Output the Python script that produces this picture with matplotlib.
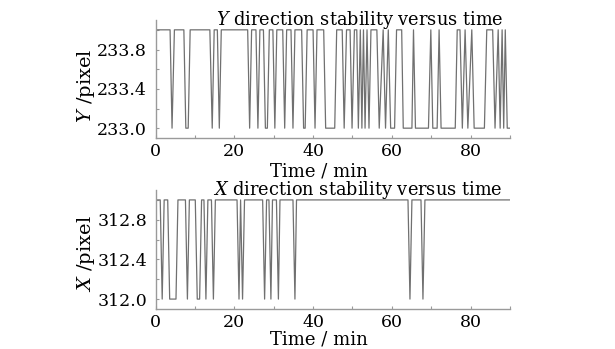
import matplotlib
matplotlib.use("Agg")
import matplotlib.pyplot as plt
import matplotlib.transforms as mtransforms
from matplotlib.ticker import MultipleLocator, FixedLocator, FormatStrFormatter

# Y direction record: vertex times (min) and pixel values
y_time = [0, 3.7, 4.2, 4.8, 7.2, 7.7, 8.3, 8.8, 13.8, 14.4, 14.9, 15.7, 16.2, 16.7,
          23.4, 23.9, 24.4, 25.5, 26.0, 26.5, 27.4, 27.9, 28.4, 28.9, 29.8, 30.3, 30.8,
          32.3, 32.8, 33.3, 34.4, 34.9, 35.4, 37.1, 37.6, 38.0, 38.5, 40.0, 40.5, 41.0,
          42.7, 43.2, 45.5, 46.0, 47.4, 47.9, 48.5, 49.4, 49.9, 50.5, 51.1, 51.5, 52.0,
          52.4, 52.8, 53.2, 53.7, 54.2, 54.7, 56.2, 56.8, 57.8, 58.4, 59.1, 59.7, 60.7,
          61.2, 62.5, 62.9, 65.1, 65.5, 66.0, 69.3, 69.9, 70.4, 71.5, 72.0, 72.5, 76.1,
          76.6, 77.3, 77.9, 78.6, 79.3, 80.3, 80.9, 83.5, 84.1, 85.6, 86.2, 87.0, 87.5,
          88.0, 88.4, 88.8, 89.3, 90.0]
y_pix = [234, 234, 233, 234, 234, 233, 233, 234, 234, 233, 234, 234, 233, 234,
         234, 233, 234, 234, 233, 234, 234, 233, 233, 234, 234, 233, 234,
         234, 233, 234, 234, 233, 234, 234, 233, 233, 234, 234, 233, 234,
         234, 233, 233, 234, 234, 233, 234, 234, 233, 234, 234, 233, 234,
         233, 234, 233, 234, 233, 234, 234, 233, 234, 233, 234, 233, 233,
         234, 234, 233, 233, 234, 233, 233, 234, 233, 233, 234, 233, 233,
         234, 234, 233, 234, 233, 234, 233, 233, 234, 234, 233, 234, 233,
         234, 233, 234, 233, 233]
y_ticks = [233.0, 233.4, 233.8]

# X direction record
x_time = [0, 1.2, 1.7, 2.2, 3.1, 3.6, 5.2, 5.7, 7.6, 8.1, 8.6, 10.1, 10.6, 11.2, 11.7,
          12.3, 12.8, 13.3, 14.2, 14.7, 15.2, 20.7, 21.2, 21.6, 22.1, 22.6, 27.2, 27.7,
          28.2, 28.8, 29.3, 29.7, 30.7, 31.2, 31.6, 34.9, 35.4, 35.8, 64.1, 64.6, 65.1,
          67.4, 67.9, 68.4, 90.0]
x_pix = [313, 313, 312, 313, 313, 312, 312, 313, 313, 312, 313, 313, 312, 312, 313,
         313, 312, 313, 313, 312, 313, 313, 312, 313, 312, 313, 313, 312,
         313, 313, 312, 313, 313, 312, 313, 313, 312, 313, 313, 312, 313,
         313, 312, 313, 313]
x_ticks = [312.0, 312.4, 312.8]

plt.rcParams["font.family"] = "DejaVu Serif"
plt.rcParams["mathtext.fontset"] = "dejavuserif"

LINE = "#707070"
AXC = "#9a9a9a"

fig = plt.figure(figsize=(6.15, 3.49), dpi=100)
ax1 = fig.add_axes([155.5 / 615, 1 - 138 / 349, 354.5 / 615, 118 / 349])
ax2 = fig.add_axes([155.5 / 615, 1 - 309 / 349, 354.5 / 615, 119 / 349])


def style(ax, base, ticks, ttl):
    ax.set_xlim(0, 90)
    ax.set_ylim(base - 0.1, base + 1.1)
    for s in ("top", "right"):
        ax.spines[s].set_visible(False)
    for s in ("left", "bottom"):
        ax.spines[s].set_color(AXC)
        ax.spines[s].set_linewidth(1.0)
    ax.xaxis.set_major_locator(MultipleLocator(20))
    ax.xaxis.set_minor_locator(MultipleLocator(10))
    ax.yaxis.set_major_locator(FixedLocator(ticks))
    ax.yaxis.set_minor_locator(FixedLocator([base + 0.2 * k for k in range(6)]))
    ax.yaxis.set_major_formatter(FormatStrFormatter("%.1f"))
    ax.tick_params(which="both", direction="in", color=AXC, labelsize=12.5,
                   top=False, right=False)
    ax.tick_params(which="major", length=2.5, width=0.8)
    ax.tick_params(which="minor", length=2.0, width=0.8)
    ax.tick_params(axis="y", pad=6)
    ax.tick_params(axis="x", pad=3.5)
    trans = mtransforms.blended_transform_factory(ax.transAxes, ax.transData)
    ax.text((503 - 155.5) / 354.5, base + 1.045, ttl, ha="right", va="baseline",
            fontsize=12.8, transform=trans)


ax1.plot(y_time, y_pix, color=LINE, lw=0.9)
ax2.plot(x_time, x_pix, color=LINE, lw=0.9)
style(ax1, 233, y_ticks, r"$Y$ direction stability versus time")
style(ax2, 312, x_ticks, r"$X$ direction stability versus time")

fig.text(319 / 615, 1 - 176 / 349, "Time / min", ha="center", va="baseline", fontsize=13)
fig.text(319 / 615, 1 - 344 / 349, "Time / min", ha="center", va="baseline", fontsize=13)
fig.text(86 / 615, 1 - 86 / 349, r"$Y$ /pixel", ha="center", va="center",
         rotation=90, fontsize=14)
fig.text(86 / 615, 1 - 254 / 349, r"$X$ /pixel", ha="center", va="center",
         rotation=90, fontsize=14)

fig.savefig("out.png", dpi=100, facecolor="white")
